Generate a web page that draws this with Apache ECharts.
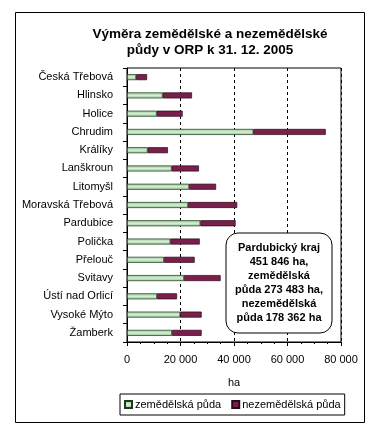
<!DOCTYPE html>
<html><head><meta charset="utf-8">
<script src="https://cdn.jsdelivr.net/npm/echarts@6/dist/echarts.min.js"></script>
<style>html,body{margin:0;padding:0;background:#fff}#c{width:374px;height:433px}</style>
</head><body><div id="c"></div>
<script>
const categories = ["Česká Třebová","Hlinsko","Holice","Chrudim","Králíky","Lanškroun","Litomyšl","Moravská Třebová","Pardubice","Polička","Přelouč","Svitavy","Ústí nad Orlicí","Vysoké Mýto","Žamberk"];
const zemedelska = [3400,13300,11100,47200,7700,16700,23200,22800,27400,16200,13800,21300,11200,19900,16800];
const nezemedelska = [4100,11000,9700,27100,7600,10200,10100,18400,13200,11000,11500,13700,7500,8000,11100];
const xTicks = [0,20000,40000,60000,80000];
const seriesNames = ["zemědělská půda","nezemědělská půda"];
const titleLines = ["Výměra zemědělské a nezemědělské","půdy v ORP k 31. 12. 2005"];
const noteLines = ["Pardubický kraj","451 846 ha,","zemědělská","půda 273 483 ha,","nezemědělská","půda 178 362 ha"];

const F = "'Liberation Sans', Arial, sans-serif";
const chart = echarts.init(document.getElementById('c'), null, {renderer:'canvas'});
const fmt = v => String(v).replace(/\B(?=(\d{3})+(?!\d))/g, ' ');
chart.setOption({
  animation:false,
  textStyle:{fontFamily:F},
  title:{text:titleLines.join('\n'), left:205, top:21, textAlign:'center',
    textStyle:{fontFamily:F,fontSize:13.5,fontWeight:'bold',color:'#000',lineHeight:16}},
  grid:{left:127, top:68, width:214, height:274, show:true, borderColor:'#000', borderWidth:1, containLabel:false},
  legend:{data:seriesNames, left:120, top:394, padding:[5,4,5,4], itemWidth:7, itemHeight:7, itemGap:10,
    borderColor:'#000', borderWidth:1, icon:'rect',
    textStyle:{fontFamily:F,fontSize:11,color:'#000',padding:[0,0,0,-2]}},
  xAxis:{type:'value', min:xTicks[0], max:xTicks[xTicks.length-1], interval:xTicks[1]-xTicks[0],
    name:'ha', nameLocation:'middle', nameGap:35, nameTextStyle:{fontFamily:F,fontSize:11,color:'#000'},
    axisLine:{show:true,lineStyle:{color:'#000'}},
    axisTick:{show:true,inside:false,length:4,lineStyle:{color:'#000'}},
    minorTick:{show:true,splitNumber:4,length:2,lineStyle:{color:'#000'}},
    axisLabel:{fontFamily:F,fontSize:11,color:'#000',margin:12,formatter:fmt},
    splitLine:{show:true,lineStyle:{color:'#000',type:[3,3],width:1}}},
  yAxis:{type:'category', data:categories, inverse:true,
    axisLine:{show:true,lineStyle:{color:'#000'}},
    axisTick:{show:true,length:4,lineStyle:{color:'#000'}},
    axisLabel:{fontFamily:F,fontSize:11,color:'#000',margin:14}},
  series:[
    {name:seriesNames[0], type:'bar', stack:'a', data:zemedelska, barWidth:6,
      itemStyle:{color:new echarts.graphic.LinearGradient(0,0,0,1,[{offset:0,color:'#8fc08f'},{offset:0.5,color:'#d8eed8'},{offset:1,color:'#8fc08f'}]),
        borderColor:'#1a3a1a',borderWidth:0.7}},
    {name:seriesNames[1], type:'bar', stack:'a', data:nezemedelska, barWidth:6,
      itemStyle:{color:'#7a1f4c',borderColor:'#2a0a18',borderWidth:0.7}}
  ],
  graphic:[
    {type:'rect', shape:{x:15.5,y:12.5,width:349,height:410}, style:{fill:null,stroke:'#000',lineWidth:1}, silent:true, z:-1},
    {type:'rect', shape:{x:226,y:233,width:106,height:100,r:12}, style:{fill:'#fff',stroke:'#000',lineWidth:1}, z:10},
    {type:'text', x:279, y:283, z:11, style:{text:noteLines.join('\n'), fontFamily:F, fontSize:11, fontWeight:'bold',
      fill:'#000', align:'center', verticalAlign:'middle', lineHeight:14}}
  ]
});
</script></body></html>
